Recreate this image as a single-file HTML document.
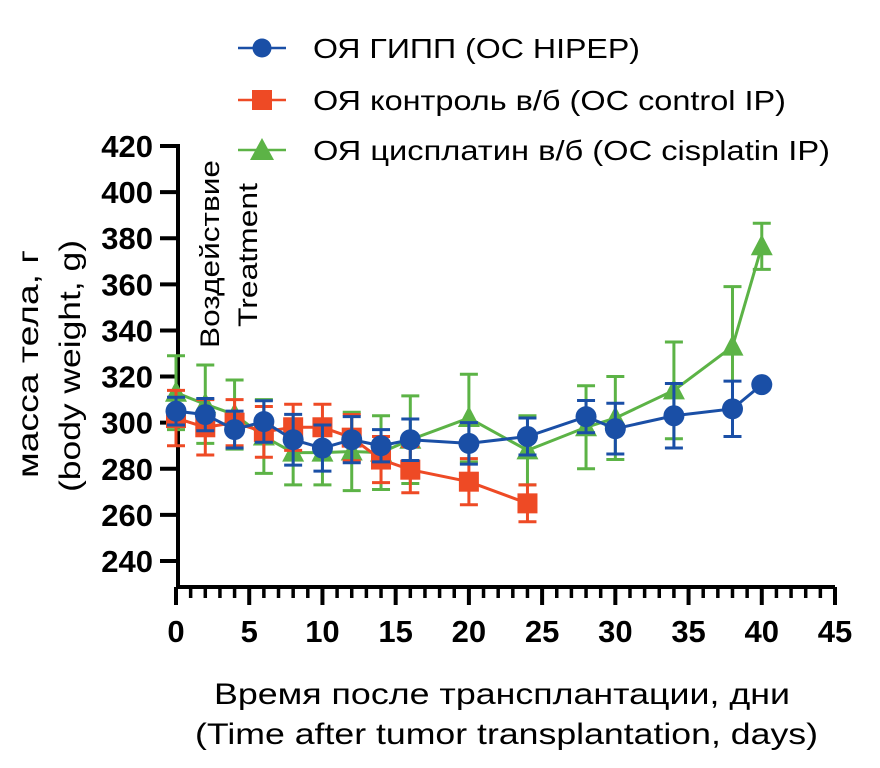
<!DOCTYPE html>
<html><head><meta charset="utf-8"><style>
body{margin:0;background:#fff}
svg{display:block;font-family:"Liberation Sans",sans-serif}
</style></head><body>
<svg id="chart" width="880" height="768" viewBox="0 0 880 768">
<g id="axes"></g><g id="series"></g>
<g>
 <g>
  <line x1="238" y1="48" x2="286" y2="48" stroke="#1a4fa6" stroke-width="2.5"/>
  <circle cx="262" cy="48" r="9.5" fill="#1a4fa6"/>
  <text x="313" y="58" font-size="28" textLength="327" lengthAdjust="spacingAndGlyphs">ОЯ ГИПП (ОС HIPEP)</text>
 </g>
 <g>
  <line x1="238" y1="100" x2="286" y2="100" stroke="#ee4a25" stroke-width="2.5"/>
  <rect x="252" y="90" width="20" height="20" fill="#ee4a25"/>
  <text x="313" y="110" font-size="28" textLength="473" lengthAdjust="spacingAndGlyphs">ОЯ контроль в/б (ОС control IP)</text>
 </g>
 <g>
  <line x1="238" y1="150" x2="286" y2="150" stroke="#5cb346" stroke-width="2.5"/>
  <polygon points="262,138 274,160 250,160" fill="#5cb346"/>
  <text x="313" y="160" font-size="28" textLength="517" lengthAdjust="spacingAndGlyphs">ОЯ цисплатин в/б (ОС cisplatin IP)</text>
 </g>
</g>
<text transform="translate(219,348) rotate(-90)" font-size="27" textLength="188" lengthAdjust="spacingAndGlyphs">Воздействие</text>
<text transform="translate(257,327) rotate(-90)" font-size="27" textLength="144" lengthAdjust="spacingAndGlyphs">Treatment</text>
<text transform="translate(38,478) rotate(-90)" font-size="30" textLength="228" lengthAdjust="spacingAndGlyphs">масса тела, г</text>
<text transform="translate(80,492) rotate(-90)" font-size="30" textLength="252" lengthAdjust="spacingAndGlyphs">(body weight, g)</text>
<text x="214" y="704" font-size="30" textLength="576" lengthAdjust="spacingAndGlyphs">Время после трансплантации, дни</text>
<text x="195" y="744" font-size="30" textLength="623" lengthAdjust="spacingAndGlyphs">(Time after tumor transplantation, days)</text>
</svg>
<script>
const days=[0,2,4,6,8,10,12,14,16,20,24,28,30,34,38,40];
const hipep=[305,303.5,297,300.5,292.6,289,292.6,290,292.6,291,294,302.6,297.4,303,306,316.5];
const hipepErr=[6,7,8,9,11,10,10,7,9,9,8,7,11,14,12,0];
const ctrlDays=[0,2,4,6,8,10,12,14,16,20,24];
const ctrl=[302,298,300,296,298,298,293.5,284,279.6,274.4,265];
const ctrlErr=[12,12,10,11,10,10,10,10,10,10,8];
const cis=[313,308,303.5,294,287,287,287.5,287,292.6,302,288,298,302,314,333,376.5];
const cisErr=[16,17,15,16,14,14,17,16,19,19,15,18,18,21,26,10];
const yTicks=[240,260,280,300,320,340,360,380,400,420];
const xTicks=[0,5,10,15,20,25,30,35,40,45];
const NS="http://www.w3.org/2000/svg";
const X=d=>176+d*(659/45);
const Y=v=>146+(420-v)*(415/180);
function mk(tag,attrs,parent){const e=document.createElementNS(NS,tag);for(const k in attrs)e.setAttribute(k,attrs[k]);parent.appendChild(e);return e;}
const ax=document.getElementById('axes');
const yl=mk('line',{x1:178,y1:144,x2:178,y2:589,stroke:'#000','stroke-width':4},ax);


const xl=mk('line',{x1:176,y1:587,x2:835,y2:587,stroke:'#000','stroke-width':4},ax);


yTicks.forEach(v=>{
 mk('line',{x1:160,y1:Y(v),x2:178,y2:Y(v),stroke:'#000','stroke-width':4},ax);
 const t=mk('text',{x:153,y:Y(v)+11,'font-size':31,'font-weight':'bold','text-anchor':'end'},ax);
 t.textContent=v;
 
 
});
for(let d=0;d<=45;d++){
 const major=d%5===0;
 mk('line',{x1:X(d),y1:587,x2:X(d),y2:major?605:598,stroke:'#000','stroke-width':major?4:3.5},ax);
}
xTicks.forEach(d=>{
 const t=mk('text',{x:X(d),y:642,'font-size':31,'font-weight':'bold','text-anchor':'middle'},ax);
 t.textContent=d;
 
 
});
const sg=document.getElementById('series');
function series(name,xs,vals,errs,color,shape){
 const g=mk('g',{},sg);
 
 
 xs.forEach((d,i)=>{if(errs[i]>0){
  const x=X(d),y1=Y(vals[i]+errs[i]),y2=Y(vals[i]-errs[i]);
  mk('line',{x1:x,y1:y1,x2:x,y2:y2,stroke:color,'stroke-width':3},g);
  mk('line',{x1:x-9,y1:y1,x2:x+9,y2:y1,stroke:color,'stroke-width':3},g);
  mk('line',{x1:x-9,y1:y2,x2:x+9,y2:y2,stroke:color,'stroke-width':3},g);
 }});
 mk('polyline',{points:xs.map((d,i)=>X(d)+','+Y(vals[i])).join(' '),fill:'none',stroke:color,'stroke-width':3},g);
 xs.forEach((d,i)=>{
  const x=X(d),y=Y(vals[i]);let m;
  if(shape==='circle')m=mk('circle',{cx:x,cy:y,r:10.5,fill:color},g);
  else if(shape==='square')m=mk('rect',{x:x-10,y:y-10,width:20,height:20,fill:color},g);
  else m=mk('polygon',{points:`${x},${y-12} ${x+11},${y+9} ${x-11},${y+9}`,fill:color},g);
  
  
 });
}
series('cisplatin-series',days,cis,cisErr,'#5cb346','tri');
series('control-series',ctrlDays,ctrl,ctrlErr,'#ee4a25','square');
series('hipep-series',days,hipep,hipepErr,'#1a4fa6','circle');
</script>
</body></html>
